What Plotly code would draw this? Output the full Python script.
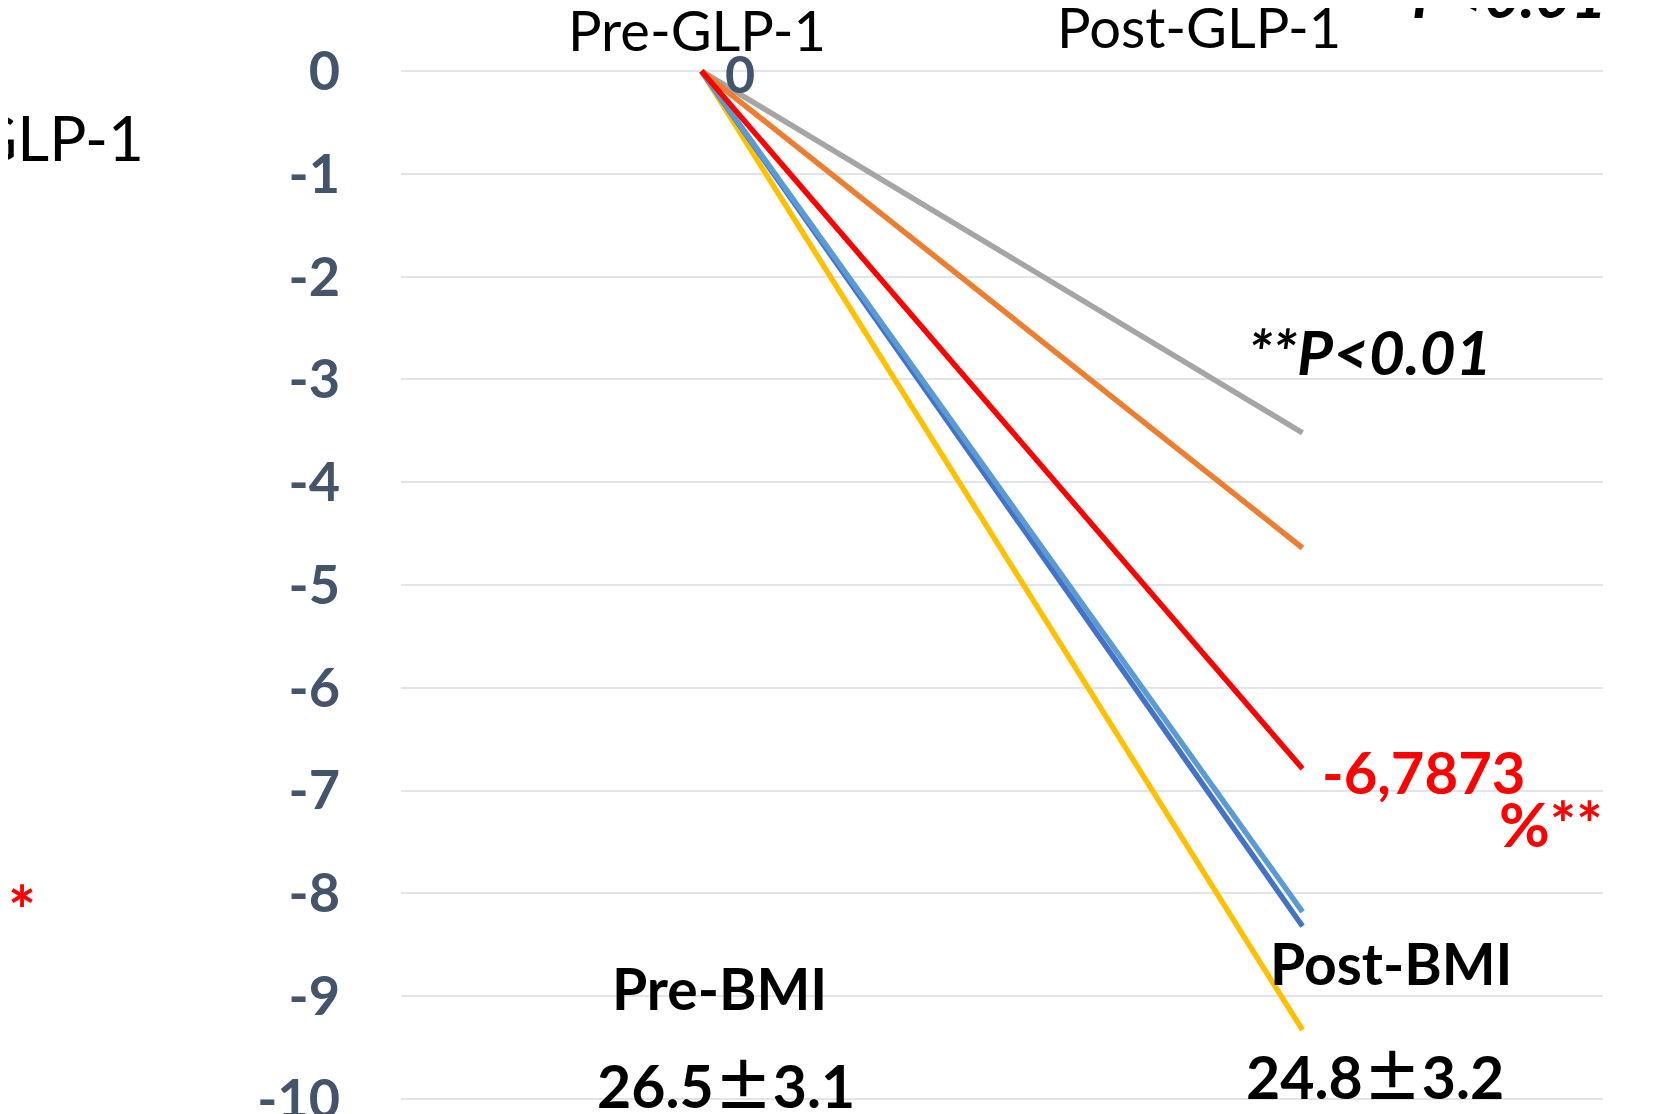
import plotly.graph_objects as go

# ---- data ----
categories = ["Pre-GLP-1", "Post-GLP-1"]
series_names = ["Series A", "Series B", "Series C", "Series D", "Series E", "Series F"]
series_values = {
    "Series A": [0, -3.52],
    "Series B": [0, -4.64],
    "Series C": [0, -9.33],
    "Series D": [0, -8.32],
    "Series E": [0, -8.18],
    "Series F": [0, -6.7873],
}
series_colors = {
    "Series A": "#A5A5A5",
    "Series B": "#ED7D31",
    "Series C": "#FFC000",
    "Series D": "#4472C4",
    "Series E": "#5B9BD5",
    "Series F": "#FF0000",
}
y_ticks = [0, -1, -2, -3, -4, -5, -6, -7, -8, -9, -10]

FONT = "Lato, 'Open Sans', sans-serif"
TICK_COLOR = "#44546A"

fig = go.Figure()
for name in series_names:
    fig.add_trace(go.Scatter(
        x=categories, y=series_values[name], mode="lines", name=name,
        line=dict(color=series_colors[name], width=5.5),
        showlegend=False, hoverinfo="skip",
    ))

def ann(text, x, y, size, color="black", bold=False, italic=False,
        xanchor="center", yanchor="middle", xref="paper", yref="paper"):
    t = text
    if bold:
        t = "<b>" + t + "</b>"
    if italic:
        t = "<i>" + t + "</i>"
    fig.add_annotation(text=t, x=x, y=y, xref=xref, yref=yref,
                       xanchor=xanchor, yanchor=yanchor, showarrow=False,
                       font=dict(family=FONT, size=size, color=color))

PM = "<span style=\"font-family:'Noto Sans CJK JP'\">±</span>"

ann("Pre-GLP-1", 0.246, 1.0368, 56)
ann("Post-GLP-1", 0.664, 1.0397, 56)
ann("0", 0.282, 0.9952, 52, color=TICK_COLOR, bold=True)
ann("**P<0.01", 0.806, 0.7263, 62, bold=True, italic=True)
ann("**P<0.01", 1.005, 1.0716, 62, bold=True, italic=True, xanchor="right")
ann("-6,7873", 0.851, 0.3201, 58, color="#FF0000", bold=True)
ann("%**", 0.957, 0.2698, 62, color="#FF0000", bold=True)
ann("Post-BMI", 0.824, 0.1344, 57, bold=True)
ann("24.8" + PM + "3.2", 0.810, 0.0271, 59, bold=True)
ann("Pre-BMI", 0.265, 0.1103, 57, bold=True)
ann("26.5" + PM + "3.1", 0.270, 0.0184, 59, bold=True)
ann("GLP-1", -0.2125, 0.9333, 62, xanchor="right")
ann("**", -0.302, 0.186, 66, color="#FF0000", bold=True, xanchor="right")

fig.update_xaxes(
    type="category", range=[-0.5, 1.5], showticklabels=False,
    showgrid=False, zeroline=False, showline=False, ticks="",
)
fig.update_yaxes(
    range=[-10.03, 0.03], tickvals=y_ticks, ticktext=[str(v) for v in y_ticks],
    showgrid=True, gridcolor="#E1E5EB", gridwidth=2, zeroline=False,
    showline=False, ticks="", ticklabelstandoff=60, automargin=False,
    ticklabeloverflow="allow",
    tickfont=dict(family=FONT, size=54, color=TICK_COLOR, weight="bold"),
)
fig.update_layout(
    width=1654, height=1106,
    margin=dict(l=393, r=59, t=60, b=12, autoexpand=False),
    paper_bgcolor="white", plot_bgcolor="white",
    showlegend=False,
)
fig.write_html("out.html")
